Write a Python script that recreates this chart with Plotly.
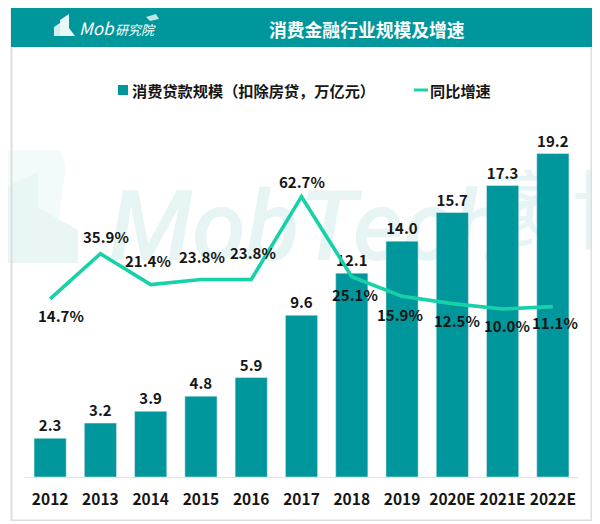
#---------------------------------------------------------------------
# 消费金融行业规模及增速
#---------------------------------------------------------------------

import plotly.graph_objects as go

#---------------------------------------------------------------------
# Data
#---------------------------------------------------------------------

years = ['2012', '2013', '2014', '2015', '2016', '2017', '2018', '2019',
         '2020E', '2021E', '2022E']
loans = [2.3, 3.2, 3.9, 4.8, 5.9, 9.6, 12.1, 14.0, 15.7, 17.3, 19.2]
growth = [14.7, 35.9, 21.4, 23.8, 23.8, 62.7, 25.1, 15.9, 12.5, 10.0, 11.1]

# where each growth label sits relative to its point, in pixels
label_dx = [11, 6, -3, 1, 2, 0, 3, -2, 5, 4, 2]
label_dy = [17, -17, -24, -23, -27, -15, 18, 18, 17, 17, 16]

#---------------------------------------------------------------------
# Style
#---------------------------------------------------------------------

# the page keeps an 8px body margin, so the figure is that much smaller
PAGE = 8
W, H = 600 - PAGE, 524 - PAGE
LEFT, RIGHT, TOP, BOTTOM = 25, 578, 130, 477
TEAL = '#00979c'
MINT = '#17d2a8'
INK = '#161616'
CJK = 'Noto Sans CJK SC'


def px(x, y):
    '''Window pixels to paper coordinates (paper is the plot area).'''
    return (x - LEFT) / (RIGHT - LEFT), (BOTTOM - y) / (BOTTOM - TOP)


def rect(x0, y0, x1, y1, color, layer='below'):
    a, b = px(x0, y0)
    c, d = px(x1, y1)
    return dict(type='rect', xref='paper', yref='paper', x0=a, y0=b, x1=c, y1=d,
                fillcolor=color, line_width=0, layer=layer)


def poly(points, color, layer='below'):
    coords = [px(*p) for p in points]
    path = 'M' + 'L'.join(f'{a:.4f},{b:.4f}' for a, b in coords) + 'Z'
    return dict(type='path', xref='paper', yref='paper', path=path,
                fillcolor=color, line_width=0, layer=layer)


def mark(x0, y0, x1, y1, text, size, family, color, style='italic', weight=700):
    '''Watermark word, a shape label so that it stays under the bars.'''
    s = rect(x0, y0, x1, y1, 'rgba(0,0,0,0)')
    s['label'] = dict(text=text, textposition='middle left', padding=0,
                      font=dict(size=size, family=family, color=color,
                                style=style, weight=weight))
    return s


def note(x, y, text, size, color=INK, anchor='center', style='normal', weight=700):
    a, b = px(x, y)
    return dict(xref='paper', yref='paper', x=a, y=b, text=text, showarrow=False,
                xanchor=anchor, yanchor='middle',
                font=dict(size=size, color=color, family=CJK, style=style, weight=weight))


#---------------------------------------------------------------------
# Plot
#---------------------------------------------------------------------

fig = go.Figure()

fig.add_trace(go.Bar(
    x=years, y=loans, name='消费贷款规模（扣除房贷，万亿元）',
    marker=dict(color=TEAL), width=0.64,
    text=[f'{v:.1f}' for v in loans], textposition='outside', cliponaxis=False,
    textfont=dict(size=15, color=INK, family=CJK, weight=600),
))

fig.add_trace(go.Scatter(
    x=years, y=growth, name='同比增速', yaxis='y2', mode='lines',
    line=dict(color=MINT, width=3.6), cliponaxis=False,
))

annotations = []
for i, (g, dx, dy) in enumerate(zip(growth, label_dx, label_dy)):
    # x is the category index: a text like '2012' would be read as a number
    annotations.append(dict(
        x=i, y=g, xref='x', yref='y2', text=f'{g:.1f}%', showarrow=False,
        xshift=dx, yshift=-dy,
        font=dict(size=15, color=INK, family=CJK, weight=600),
    ))

# header and hand placed legend
annotations += [
    note(367, 29, '消费金融行业规模及增速', 17.8, 'white'),
    note(77, 28, 'Mob', 17, 'white', 'left', 'italic', 400),
    note(113, 29, '研究院', 13, 'white', 'left', 'italic', 400),
    note(130, 90, '消费贷款规模（扣除房贷，万亿元）', 15.2, anchor='left'),
    note(428, 90, '同比增速', 15.2, anchor='left'),
]

shapes = [
    # watermark
    poly([(8, 150), (60, 150), (66, 165), (53, 263), (8, 263)], '#f3fafa'),
    poly([(8, 186), (38, 172), (38, 263), (8, 263)], '#e9f6f6'),
    poly([(33, 205), (78, 230), (78, 263), (28, 263)], '#eaf6f6'),
    mark(106, 175, 480, 263, 'MobTech', 98, 'Roboto', '#e6f4f4', weight=500),
    mark(483, 175, 660, 263, '袤博', 86, CJK, '#e6f4f4', 'normal', 400),
    rect(592, 100, 600, 300, 'white'),
    # frame
    rect(10.5, 8, 12.5, 521, '#dedede'),
    rect(590.5, 8, 592.5, 521, '#dedede'),
    rect(10.5, 519.5, 592.5, 521, '#dedede'),
    # header bar and its logo
    rect(11, 8, 592, 47, TEAL),
    poly([(54, 36), (54, 27), (60, 23), (60, 36)], '#cfeeee', 'above'),
    poly([(60, 20), (69, 14), (69, 28), (75, 36), (60, 36)], '#e8f7f7', 'above'),
    poly([(146, 17), (156, 14), (159, 19), (150, 21)], '#bfe6e6', 'above'),
    # legend keys
    rect(118, 85, 128, 95, TEAL),
    rect(414, 88.5, 428, 91.5, MINT),
]

fig.update_layout(
    width=W, height=H, autosize=False,
    margin=dict(l=LEFT - PAGE, r=W - (RIGHT - PAGE), t=TOP - PAGE, b=H - (BOTTOM - PAGE)),
    paper_bgcolor='white', plot_bgcolor='rgba(0,0,0,0)',
    showlegend=False,
    xaxis=dict(
        type='category', range=[-0.5, 10.5], showgrid=False, ticks='',
        showline=True, linecolor='#e2e2e2', linewidth=1, ticklabelstandoff=8,
        tickfont=dict(size=15.5, color=INK, family=CJK, weight=600),
    ),
    yaxis=dict(range=[0, 20.6], visible=False),
    yaxis2=dict(range=[-68.9, 94.0], overlaying='y', side='right', visible=False),
    shapes=shapes,
    annotations=annotations,
)

fig.write_html('out.html')
